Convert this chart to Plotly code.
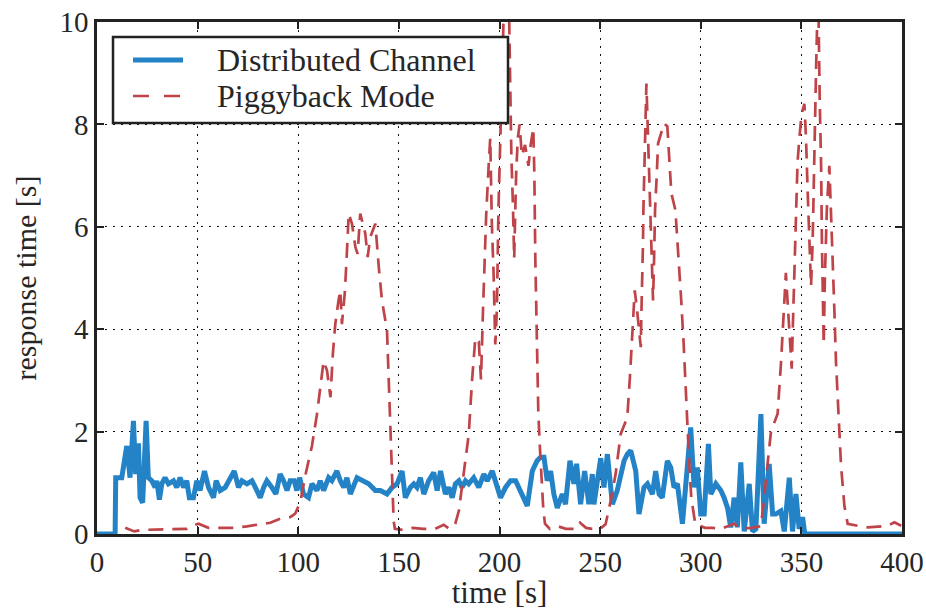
import plotly.graph_objects as go

# ---- data ----
dc_time = [0, 9.0, 9.3, 12.3, 14.8, 16.4, 18.1, 19.2, 20.6, 21.4, 22.7, 24.4, 25.5, 27.2, 28.9, 29.7,
           31.0, 32.2, 33.8, 35.5, 38.0, 39.6, 41.3, 43.0, 44.6, 45.9, 47.9, 49.6, 51.2, 53.4, 55.4,
           57.9, 59.2, 61.2, 63.7, 66.2, 68.2, 70.3, 72.0, 74.5, 77.0, 79.4, 81.1, 82.8, 84.4, 86.9,
           88.9, 91.0, 92.7, 94.4, 96.0, 98.0, 99.3, 100.7, 102.6, 105.1, 106.8, 109.3, 110.9, 112.6,
           115.1, 116.7, 119.2, 120.9, 122.6, 124.2, 125.9, 129.2, 132.5, 135.0, 138.3, 140.8, 144.1,
           146.6, 149.1, 151.6, 153.2, 155.7, 157.4, 159.0, 160.7, 162.4, 164.8, 167.3, 169.0, 170.7,
           173.1, 174.8, 176.5, 178.1, 179.8, 181.4, 183.1, 184.7, 187.2, 189.7, 192.2, 193.9, 196.4,
           198.8, 200.5, 203.0, 205.5, 208.0, 210.5, 213.8, 216.3, 218.7, 220.4, 222.1, 223.7, 225.4,
           227.0, 228.7, 231.2, 232.8, 235.0, 237.0, 238.3, 240.3, 242.3, 244.4, 246.1, 246.9, 250.3,
           251.9, 253.6, 256.1, 258.5, 261.9, 263.5, 265.2, 267.7, 269.3, 271.8, 273.5, 276.0, 277.6,
           279.3, 280.9, 283.4, 285.1, 286.7, 288.4, 290.9, 292.5, 295.0, 296.7, 298.3, 300.0, 301.7,
           303.8, 305.0, 307.5, 310.0, 311.6, 313.3, 314.9, 316.6, 318.2, 319.9, 321.6, 324.1, 325.7,
           327.4, 329.9, 331.5, 334.0, 335.7, 337.3, 339.8, 341.5, 344.0, 345.6, 347.3, 348.9, 350.6,
           351.7, 400]
dc_resp = [0, 0, 1.1, 1.1, 1.72, 1.1, 2.21, 1.17, 1.77, 0.71, 0.61, 2.21, 1.1, 1.04, 0.91, 1.04,
           0.67, 0.98, 1.1, 0.98, 1.04, 0.91, 1.1, 0.91, 1.04, 0.71, 0.71, 1.04, 0.85, 1.23, 0.91,
           0.71, 1.04, 0.85, 0.91, 1.1, 1.23, 0.91, 1.04, 0.98, 1.04, 0.85, 0.71, 0.91, 1.04, 0.91,
           0.78, 1.17, 1.04, 0.85, 1.04, 1.04, 0.85, 1.1, 0.78, 0.71, 0.98, 0.85, 1.04, 0.85,
           1.1, 1.04, 1.23, 1.04, 0.91, 1.1, 0.78, 1.1, 1.04, 0.98, 0.85, 0.85, 0.78,
           0.91, 0.98, 1.23, 0.71, 0.91, 0.98, 0.91, 1.1, 0.78, 1.04, 1.2, 0.85, 1.23,
           0.78, 0.91, 0.71, 0.98, 1.04, 0.91, 1.04, 0.98, 1.1, 0.91, 1.17, 1.04, 1.23,
           0.91, 0.71, 0.91, 1.04, 1.04, 0.85, 0.55, 1.23, 1.43, 1.5, 1.5, 1.04, 1.23,
           0.78, 0.51, 0.78, 0.58, 1.43, 0.98, 1.37, 0.58, 1.23, 0.58, 1.17, 0.58, 1.48,
           0.91, 1.56, 0.58, 0.85, 1.43, 1.56, 1.63, 1.23, 0.39, 0.91, 0.98, 0.78, 1.23,
           0.78, 0.71, 1.43, 1.3, 0.91, 0.98, 0.2, 0.91, 2.08, 0.91, 1.3, 0.39, 0.39,
           1.76, 0.78, 0.98, 0.85, 0.71, 0.51, 0.13, 0.71, 0.13, 1.4, 0.05, 0.98, 0.05,
           0.1, 2.34, 0.2, 1.37, 0.39, 0.39, 0.45, 0.05, 1.1, 0.05, 0.78, 0.1, 0.33,
           0, 0]

pb_time = [14, 18.5, 22, 30, 44.6, 46.3, 50.4, 55.4, 67.8, 74.5, 86.1, 91, 96, 98.5, 101, 103.5,
           106.8, 109.3, 111, 112.6, 114.3, 116, 117.2, 118.4, 120, 120.9, 121.7, 123.1, 123.9, 125.1,
           126.7, 128.4, 129.5, 130.8, 133.3, 134.5, 135.8, 138.3, 140, 141.6, 144.1, 145, 145.8,
           146.6, 147.4, 148, 152, 157, 162, 168, 172.3, 175, 178, 179.8, 182.2, 184.7, 186.4, 188,
           189.7, 190.8, 191.8, 192.6, 193.4, 194.6, 195.4, 196.2, 197.1, 197.9, 198.7, 199.5, 200.4,
           201.2, 202, 203, 204.5, 205.4, 205.9, 206.7, 207.3, 207.8, 208.3, 209.1, 210, 211.1, 212.7,
           214.4, 215.5, 216.8, 217.3, 217.8, 218.5, 219.3, 220.1, 221.8, 222.6, 225, 229, 233, 238,
           240, 243, 246, 250, 252.7, 255.2, 257.7, 260.2, 263.5, 264.8, 265.7, 266.3, 267.2, 268.2,
           269.3, 270.2, 270.5, 271.0, 271.3, 271.5, 271.8, 272.2, 272.7, 273, 273.5, 274.0, 274.8,
           275.5, 276.0, 276.3, 276.8, 277.3, 278.1, 278.8, 279.8, 281.8, 283.4, 284.3, 285.4, 287.4,
           289.0, 290.3, 291.5, 292.6, 293.6, 294.4, 295.3, 297.3, 302.2, 305.8, 310, 316.6, 320, 325,
           329.9, 331.5, 332.4, 333.2, 334.9, 338.2, 339.9, 340.7, 341.5, 342.3, 343.2, 344.5, 345.2,
           345.7, 346.2, 346.8, 347.5, 348.1, 349.0, 350.1, 351.5, 352.3, 353.1, 353.9, 354.8, 355.6,
           356.1, 356.8, 357.3, 357.8, 358.1, 358.4, 359.1, 359.8, 360.2, 360.7, 361.1, 361.7, 362.7,
           363.9, 364.7, 365.6, 366.4, 367.2, 368.4, 369.7, 371.4, 373, 378, 383, 393, 396.2, 399.6]
pb_resp = [0.12, 0.05, 0.08, 0.09, 0.1, 0.15, 0.2, 0.12, 0.12, 0.15, 0.22, 0.3, 0.33, 0.4, 0.62, 1.14,
           1.72, 2.34, 2.86, 3.38, 3.19, 2.67, 3.52, 4.1, 4.56, 4.76, 4.1, 4.7, 5.28, 6.26,
           6.06, 5.6, 5.47, 6.26, 5.87, 5.41, 5.8, 6.06, 5.22, 4.56, 3.98, 2.99, 2.02,
           1.24, 0.26, 0.1, 0.08, 0.12, 0.1, 0.1, 0.18, 0.1, 0.2, 0.45, 1.14, 1.94, 3.02, 3.83,
           3.76, 3.02, 4.37, 5.38, 6.25, 7.19, 7.73, 6.05, 5.04, 3.7, 4.37, 6.38, 7.73,
           8.74, 10.5, 11.5, 10.8, 8.4, 7.39, 6.38, 5.38, 6.25, 7.06, 7.73, 8.0, 7.39, 7.6,
           7.19, 7.6, 7.93, 7.06, 5.38, 3.7, 2.35, 1.67, 0.46, 0.2, 0.1, 0.15, 0.1, 0.1,
           0.22, 0.12, 0.1, 0.1, 0.19, 0.64, 1.17, 1.95, 2.28, 3.06, 3.72, 4.36, 4.76, 4.43,
           4.04, 3.65, 4.3, 5.02, 5.67, 6.33, 6.98, 7.63, 8.28, 8.8, 8.15, 7.5, 6.65,
           5.67, 5.02, 4.56, 5.35, 6.33, 6.98, 7.63, 7.76, 8.02, 7.96, 7.3, 6.65, 6.33,
           5.41, 4.56, 3.72, 2.93, 1.95, 1.3, 0.71, 0.19, 0.12, 0.12, 0.1, 0.2, 0.1, 0.12,
           0.15, 0.7, 1.0, 1.37, 2.0, 2.35, 3.36, 4.03, 4.7, 5.1, 4.5, 3.7, 3.23,
           3.97, 4.7, 5.71, 6.66, 7.26, 7.73, 8.2, 8.4, 7.73, 6.72, 5.71, 4.84, 5.71,
           6.86, 7.87, 9.08, 9.9, 10.8, 10.5, 8.5, 7.2, 5.71, 4.7, 3.7, 5.04, 6.39,
           7.19, 6.39, 5.38, 4.37, 3.36, 2.35, 1.34, 0.54, 0.2, 0.16, 0.13, 0.16, 0.23, 0.16]

x_ticks = [0, 50, 100, 150, 200, 250, 300, 350, 400]
y_ticks = [0, 2, 4, 6, 8, 10]
series_names = ["Distributed Channel", "Piggyback Mode"]
series_colors = ["#2383C6", "#BF4449"]

FONT = "Liberation Serif"
TXT = "#262626"
W, H = 926, 610
ML, MR, MT, MB = 97, 24, 22, 76
PW, PH = W - ML - MR, H - MT - MB


def px_x(p):
    return (p - ML) / PW


def px_y(p):
    return 1 - (p - MT) / PH


fig = go.Figure()
fig.add_trace(go.Scatter(x=dc_time, y=dc_resp, mode="lines", name=series_names[0],
                         line=dict(color=series_colors[0], width=5), showlegend=False))
fig.add_trace(go.Scatter(x=pb_time, y=pb_resp, mode="lines", name=series_names[1],
                         line=dict(color=series_colors[1], width=2.7, dash="15px,9px"),
                         showlegend=False))

axis_common = dict(
    showline=True, linecolor="#222222", linewidth=2.5, mirror="ticks",
    ticks="inside", ticklen=7, tickwidth=1.5, tickcolor="#222222",
    showgrid=True, gridcolor="#111111", gridwidth=1.3, griddash="2px,6px",
    zeroline=False, tickfont=dict(family=FONT, size=29, color=TXT), automargin=False,
)

# legend box drawn in paper space
shapes = [dict(type="rect", xref="paper", yref="paper", x0=px_x(113), x1=px_x(508),
               y0=px_y(123), y1=px_y(37), line=dict(color="#222222", width=2.5),
               fillcolor="white", layer="above")]
annotations = []
legend_rows = [60, 96]
legend_dash = [None, "16px,15px"]
legend_width = [5, 2.7]
for i, name in enumerate(series_names):
    yy = px_y(legend_rows[i])
    ln = dict(color=series_colors[i], width=legend_width[i])
    if legend_dash[i]:
        ln["dash"] = legend_dash[i]
    shapes.append(dict(type="line", xref="paper", yref="paper", x0=px_x(133), x1=px_x(183),
                       y0=yy, y1=yy, line=ln, layer="above"))
    annotations.append(dict(text=name, xref="paper", yref="paper", x=px_x(215), y=yy,
                            xanchor="left", yanchor="middle", showarrow=False,
                            font=dict(family=FONT, size=32, color=TXT)))

fig.update_layout(
    width=W, height=H,
    margin=dict(l=ML, r=MR, t=MT, b=MB),
    paper_bgcolor="white", plot_bgcolor="white",
    font=dict(family=FONT, color=TXT),
    xaxis=dict(range=[0, 400], tickvals=x_ticks, ticktext=[str(v) for v in x_ticks],
               title=dict(text="time [s]", font=dict(family=FONT, size=31, color=TXT), standoff=8),
               **axis_common),
    yaxis=dict(range=[0, 10], tickvals=y_ticks, ticktext=[str(v) for v in y_ticks],
               title=dict(text="response time [s]", font=dict(family=FONT, size=30, color=TXT), standoff=14),
               **axis_common),
    shapes=shapes,
    annotations=annotations,
    showlegend=False,
)

fig.write_html("out.html")
